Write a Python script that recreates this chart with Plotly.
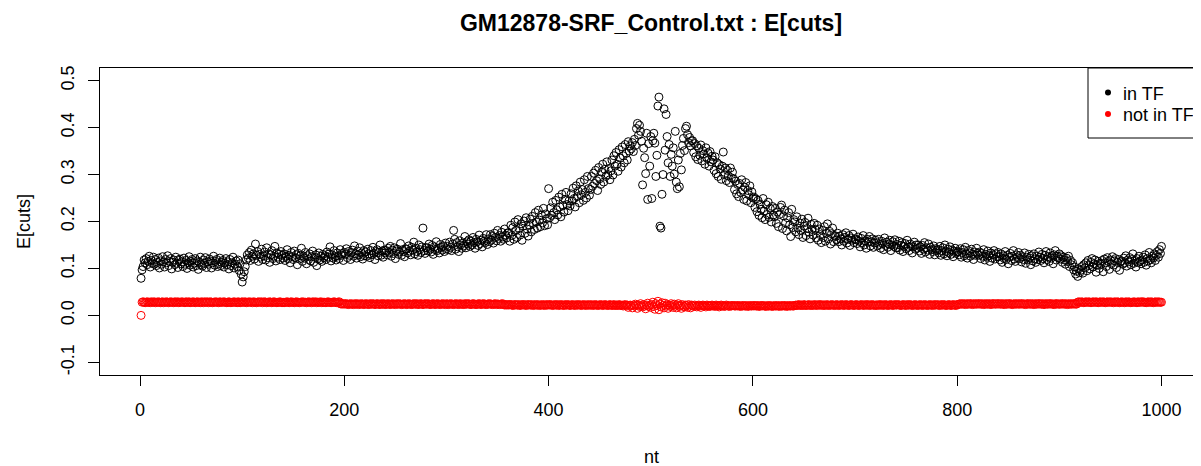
import plotly.graph_objects as go

title_text = "GM12878-SRF_Control.txt : E[cuts]"
x_label = "nt"
y_label = "E[cuts]"
series_names = ["in TF", "not in TF"]
series_colors = ["black", "red"]
x_ticks = [0, 200, 400, 600, 800, 1000]
x_tick_labels = ["0", "200", "400", "600", "800", "1000"]
y_ticks = [-0.1, 0.0, 0.1, 0.2, 0.3, 0.4, 0.5]
y_tick_labels = ["-0.1", "0.0", "0.1", "0.2", "0.3", "0.4", "0.5"]

# E[cuts] for positions inside the TF site (nt 1..1000)
in_tf = [
    .079, .097, .104, .118, .112, .121, .108, .115, .126, .103, .117, .111, .124, .109, .119, .106, .113, .122, .101, .116,
    .109, .125, .114, .103, .119, .112, .127, .106, .115, .121, .099, .113, .118, .108, .124, .111, .102, .117, .120, .110,
    .114, .104, .122, .109, .117, .100, .112, .125, .107, .115, .119, .103, .111, .121, .106, .116, .098, .113, .124, .108,
    .105, .118, .111, .123, .102, .114, .109, .120, .116, .101, .112, .126, .107, .115, .119, .104, .110, .122, .106, .113,
    .117, .103, .111, .121, .108, .114, .099, .119, .106, .112, .124, .101, .109, .116, .104, .118, .096, .110, .088, .071,
    .082, .093, .104, .118, .129, .122, .134, .117, .139, .126, .131, .120, .152, .128, .136, .115, .130, .124, .141, .119,
    .127, .135, .118, .144, .123, .131, .113, .129, .138, .121, .126, .147, .116, .133, .124, .130, .119, .136, .128, .122,
    .131, .117, .126, .140, .121, .128, .112, .134, .125, .119, .137, .123, .129, .108, .132, .120, .127, .143, .115, .126,
    .122, .134, .110, .127, .119, .131, .116, .125, .137, .113, .124, .129, .106, .121, .133, .118, .126, .115, .130, .123,
    .127, .119, .135, .124, .131, .146, .116, .129, .122, .138, .125, .118, .133, .127, .121, .140, .128, .132, .117, .134,
    .130, .142, .123, .136, .128, .119, .134, .139, .126, .148, .131, .122, .137, .129, .144, .125, .133, .120, .138, .127,
    .135, .126, .141, .131, .123, .138, .129, .145, .132, .119, .136, .140, .127, .134, .150, .128, .137, .124, .139, .133,
    .138, .129, .143, .134, .147, .126, .139, .132, .144, .121, .137, .141, .130, .135, .153, .128, .140, .136, .125, .142,
    .141, .133, .148, .137, .129, .145, .139, .156, .131, .143, .136, .128, .150, .140, .134, .146, .186, .138, .132, .144,
    .144, .137, .152, .141, .135, .149, .130, .146, .140, .157, .138, .143, .133, .151, .145, .139, .148, .136, .154, .142,
    .147, .140, .156, .145, .138, .152, .181, .162, .141, .155, .146, .136, .159, .150, .143, .154, .148, .168, .144, .157,
    .152, .161, .147, .158, .150, .166, .155, .143, .162, .157, .149, .171, .153, .160, .146, .164, .158, .155, .172, .151,
    .163, .157, .172, .160, .168, .154, .175, .166, .159, .181, .164, .170, .158, .177, .167, .162, .184, .171, .165, .176,
    .176, .158, .192, .170, .187, .162, .199, .181, .166, .204, .185, .171, .195, .160, .190, .201, .175, .208, .184, .169,
    .192, .205, .178, .211, .196, .183, .219, .199, .186, .224, .203, .189, .214, .197, .228, .191, .216, .206, .193, .270,
    .208, .229, .213, .241, .219, .204, .245, .225, .214, .252, .231, .210, .258, .234, .220, .247, .262, .236, .223, .244,
    .233, .259, .244, .271, .249, .231, .276, .253, .265, .240, .284, .257, .268, .245, .289, .262, .250, .296, .270, .256,
    .268, .296, .275, .303, .281, .309, .287, .266, .315, .291, .279, .305, .322, .284, .311, .296, .327, .300, .313, .289,
    .308, .331, .299, .340, .318, .347, .322, .307, .353, .335, .316, .359, .340, .325, .364, .345, .331, .370, .350, .361,
    .355, .368, .349, .375, .362, .398, .409, .384, .405, .392, .371, .278, .356, .336, .302, .388, .247, .366, .318, .381,
    .249, .372, .388, .367, .296, .341, .446, .465, .190, .186, .258, .300, .440, .352, .428, .381, .325, .364, .296, .343,
    .318, .357, .301, .392, .284, .270, .331, .274, .345, .310, .362, .377, .351, .398, .403, .385, .368, .379, .361, .372,
    .372, .347, .366, .338, .361, .332, .356, .341, .363, .329, .351, .344, .322, .357, .335, .346, .318, .349, .327, .339,
    .331, .309, .338, .302, .325, .296, .321, .312, .290, .318, .348, .300, .314, .287, .309, .297, .283, .314, .293, .305,
    .291, .268, .286, .259, .279, .253, .281, .262, .289, .267, .247, .273, .283, .244, .266, .257, .276, .240, .263, .250,
    .252, .230, .248, .221, .245, .213, .237, .226, .208, .249, .222, .204, .236, .215, .241, .209, .228, .199, .232, .214,
    .210, .228, .196, .220, .189, .215, .230, .235, .185, .212, .224, .197, .180, .208, .219, .193, .168, .226, .187, .204,
    .199, .178, .210, .186, .172, .197, .181, .205, .166, .190, .198, .170, .185, .207, .177, .163, .194, .183, .171, .196,
    .183, .165, .192, .160, .184, .172, .155, .181, .166, .189, .158, .175, .195, .163, .179, .152, .174, .186, .157, .170,
    .168, .161, .175, .157, .169, .163, .150, .172, .158, .166, .176, .154, .162, .170, .149, .165, .160, .173, .155, .163,
    .161, .153, .167, .158, .146, .164, .155, .170, .150, .159, .143, .162, .156, .168, .148, .157, .163, .145, .154, .160,
    .155, .148, .162, .151, .143, .158, .153, .140, .165, .149, .156, .145, .152, .160, .138, .150, .157, .147, .161, .144,
    .151, .144, .158, .139, .149, .155, .136, .147, .153, .142, .160, .145, .138, .152, .148, .133, .146, .156, .141, .150,
    .143, .150, .137, .146, .132, .149, .141, .155, .135, .144, .139, .152, .130, .145, .140, .136, .148, .129, .142, .138,
    .140, .133, .147, .128, .138, .144, .131, .150, .136, .127, .141, .134, .146, .130, .139, .125, .137, .143, .132, .135,
    .136, .129, .142, .124, .134, .140, .127, .145, .131, .122, .138, .133, .126, .141, .130, .119, .135, .128, .143, .132,
    .128, .135, .121, .132, .126, .140, .118, .130, .124, .137, .127, .115, .133, .122, .129, .138, .120, .131, .125, .134,
    .125, .118, .131, .113, .127, .121, .136, .119, .128, .110, .124, .132, .117, .126, .138, .120, .115, .129, .123, .134,
    .121, .128, .114, .125, .119, .133, .111, .124, .118, .130, .122, .108, .127, .116, .131, .120, .113, .126, .119, .135,
    .124, .117, .130, .121, .112, .128, .136, .119, .125, .115, .133, .122, .127, .110, .129, .138, .118, .126, .123, .131,
    .120, .127, .113, .124, .118, .109, .122, .115, .126, .104, .117, .108, .112, .097, .103, .088, .094, .083, .099, .091,
    .096, .104, .090, .108, .101, .112, .095, .117, .106, .099, .113, .121, .103, .110, .118, .092, .107, .115, .100, .111,
    .109, .117, .093, .120, .112, .104, .123, .115, .098, .118, .110, .125, .107, .116, .121, .102, .113, .119, .096, .114,
    .116, .109, .122, .112, .127, .105, .118, .114, .123, .108, .119, .131, .111, .117, .103, .121, .113, .126, .115, .110,
    .118, .124, .113, .129, .107, .121, .116, .134, .119, .112, .126, .122, .131, .117, .128, .136, .124, .140, .132, .147,
]

# E[cuts] for positions not in the TF site (nt 1..1000)
not_in_tf = [
    .000, .028, .029, .028, .027, .028, .029, .028, .028, .027, .029, .028, .028, .029, .027, .028, .028, .029, .028, .027,
    .028, .029, .027, .028, .028, .029, .028, .027, .028, .029, .028, .028, .027, .029, .028, .028, .029, .027, .028, .028,
    .029, .028, .028, .027, .029, .028, .028, .029, .027, .028, .028, .029, .028, .027, .028, .029, .028, .028, .027, .029,
    .028, .027, .029, .028, .028, .029, .027, .028, .029, .028, .027, .028, .028, .029, .028, .028, .027, .029, .028, .028,
    .028, .029, .028, .028, .027, .028, .029, .028, .027, .028, .028, .029, .028, .028, .027, .029, .028, .027, .028, .029,
    .028, .028, .029, .027, .028, .028, .029, .028, .028, .027, .029, .028, .028, .027, .028, .029, .028, .028, .029, .027,
    .028, .029, .028, .027, .028, .028, .029, .028, .027, .028, .029, .028, .028, .027, .028, .028, .029, .028, .027, .028,
    .027, .028, .028, .029, .028, .027, .028, .029, .028, .028, .027, .028, .029, .028, .028, .027, .028, .028, .029, .028,
    .028, .028, .027, .028, .029, .028, .028, .027, .029, .028, .028, .029, .027, .028, .028, .028, .029, .027, .028, .028,
    .028, .027, .028, .029, .028, .028, .027, .028, .028, .029, .028, .027, .028, .028, .029, .025, .024, .025, .024, .025,
    .024, .025, .024, .023, .024, .025, .024, .024, .023, .025, .024, .024, .025, .023, .024, .024, .025, .024, .023, .024,
    .025, .024, .024, .023, .025, .024, .024, .025, .024, .023, .024, .025, .024, .024, .023, .025, .024, .024, .025, .023,
    .024, .024, .025, .024, .023, .024, .025, .024, .024, .023, .025, .024, .024, .025, .024, .023, .024, .024, .025, .024,
    .023, .024, .025, .024, .024, .023, .024, .025, .024, .024, .025, .023, .024, .024, .025, .024, .023, .024, .025, .024,
    .024, .025, .024, .023, .024, .024, .025, .024, .023, .024, .025, .024, .024, .023, .024, .025, .024, .024, .023, .025,
    .024, .023, .024, .025, .024, .024, .023, .024, .025, .024, .024, .023, .025, .024, .024, .024, .023, .025, .024, .024,
    .025, .024, .024, .023, .024, .025, .024, .024, .023, .024, .024, .025, .024, .023, .024, .025, .024, .024, .023, .024,
    .024, .025, .024, .024, .023, .024, .024, .025, .023, .024, .024, .023, .024, .024, .025, .023, .022, .023, .022, .023,
    .022, .023, .023, .022, .021, .023, .022, .023, .022, .022, .023, .021, .022, .023, .022, .023, .022, .021, .023, .022,
    .023, .022, .022, .023, .021, .022, .023, .022, .022, .023, .021, .022, .022, .023, .022, .021, .023, .022, .022, .023,
    .022, .023, .022, .021, .022, .023, .022, .022, .023, .021, .022, .023, .022, .022, .021, .023, .022, .022, .023, .022,
    .021, .022, .023, .022, .022, .021, .023, .022, .022, .023, .022, .021, .022, .023, .022, .022, .021, .023, .022, .022,
    .022, .023, .021, .022, .022, .023, .022, .021, .022, .022, .023, .022, .021, .022, .023, .022, .022, .021, .022, .023,
    .022, .021, .022, .023, .021, .022, .022, .021, .023, .022, .021, .022, .020, .022, .023, .021, .022, .017, .021, .022,
    .021, .016, .022, .020, .024, .021, .015, .022, .019, .025, .021, .018, .023, .020, .014, .022, .026, .019, .021, .017,
    .023, .028, .019, .013, .025, .021, .030, .012, .024, .018, .027, .021, .016, .026, .020, .023, .015, .022, .019, .025,
    .021, .017, .024, .020, .016, .022, .025, .019, .021, .015, .023, .020, .018, .022, .021, .017, .023, .020, .016, .022,
    .021, .019, .022, .020, .018, .021, .022, .020, .017, .021, .022, .020, .021, .018, .022, .021, .020, .019, .021, .022,
    .020, .021, .019, .022, .021, .020, .018, .021, .022, .020, .021, .019, .020, .022, .021, .020, .019, .021, .020, .021,
    .021, .020, .020, .021, .020, .021, .020, .019, .021, .020, .021, .020, .020, .021, .019, .020, .021, .020, .020, .021,
    .020, .021, .020, .020, .021, .019, .020, .021, .020, .021, .020, .020, .019, .021, .020, .020, .021, .020, .019, .020,
    .021, .020, .020, .021, .020, .019, .021, .020, .020, .021, .020, .021, .019, .020, .021, .020, .020, .021, .020, .020,
    .021, .022, .021, .022, .023, .021, .022, .022, .021, .023, .022, .021, .022, .022, .023, .021, .022, .022, .021, .023,
    .022, .022, .021, .023, .022, .022, .023, .021, .022, .022, .021, .023, .022, .022, .021, .022, .023, .022, .022, .021,
    .022, .023, .022, .021, .022, .022, .023, .022, .021, .022, .023, .022, .022, .021, .022, .023, .022, .022, .021, .022,
    .023, .022, .022, .021, .022, .023, .022, .022, .021, .023, .022, .022, .023, .021, .022, .022, .023, .022, .021, .022,
    .022, .021, .023, .022, .022, .023, .021, .022, .022, .023, .022, .021, .022, .022, .023, .022, .021, .022, .023, .022,
    .022, .023, .022, .022, .021, .022, .023, .022, .022, .021, .023, .022, .022, .023, .022, .021, .022, .022, .023, .022,
    .021, .022, .022, .023, .022, .021, .022, .023, .022, .022, .021, .022, .023, .022, .022, .021, .023, .022, .022, .023,
    .022, .022, .021, .023, .022, .022, .023, .022, .021, .022, .022, .023, .022, .021, .022, .023, .022, .022, .021, .023,
    .023, .024, .025, .024, .024, .025, .024, .023, .025, .024, .024, .025, .024, .025, .023, .024, .025, .024, .024, .025,
    .024, .025, .024, .024, .025, .023, .024, .025, .024, .024, .025, .024, .023, .025, .024, .025, .024, .024, .025, .024,
    .025, .024, .024, .025, .024, .023, .025, .024, .024, .025, .024, .025, .024, .023, .024, .025, .024, .024, .025, .024,
    .024, .025, .024, .025, .024, .024, .023, .025, .024, .025, .024, .024, .025, .024, .023, .025, .024, .024, .025, .024,
    .025, .024, .024, .025, .023, .024, .025, .024, .024, .025, .024, .025, .024, .024, .023, .025, .024, .025, .024, .024,
    .024, .025, .024, .025, .024, .024, .025, .023, .024, .025, .024, .024, .025, .024, .025, .024, .024, .028, .029, .028,
    .028, .029, .028, .027, .028, .029, .028, .028, .029, .028, .027, .028, .029, .028, .028, .029, .028, .027, .028, .029,
    .028, .028, .029, .028, .027, .028, .029, .028, .028, .029, .028, .028, .027, .029, .028, .028, .029, .028, .027, .028,
    .029, .028, .028, .027, .029, .028, .028, .029, .028, .027, .028, .028, .029, .028, .028, .027, .029, .028, .028, .029,
    .028, .029, .028, .028, .027, .028, .029, .028, .028, .029, .028, .027, .028, .029, .028, .028, .029, .028, .028, .028,
]

nt_in = list(range(1, len(in_tf) + 1))
nt_not = list(range(1, len(not_in_tf) + 1))

FONT = "Liberation Sans, Arial, sans-serif"

fig = go.Figure()
for xs, ys, name, col in [(nt_in, in_tf, series_names[0], series_colors[0]),
                          (nt_not, not_in_tf, series_names[1], series_colors[1])]:
    fig.add_trace(go.Scatter(
        x=xs, y=ys, mode="markers", name=name, showlegend=False,
        marker=dict(symbol="circle-open", size=8, color=col, line=dict(width=1, color=col)),
    ))

# The page body has an 8px margin, so the figure starts 8px right and 8px down
# in the browser window. Targets below are given in window pixels.
OFF = 8
WIN_W, WIN_H = 1201, 466
W, H = WIN_W - OFF, WIN_H - OFF
L, T, B = 100 - OFF, 68 - OFF, 375 - OFF
PW, PH = W - L, B - T


def px_x(px):
    return (px - OFF - L) / PW


def px_y(py):
    return (B - (py - OFF)) / PH


shapes = [
    dict(type="rect", xref="paper", yref="paper", x0=px_x(1088), x1=1.05, y0=px_y(138), y1=1.0,
         line=dict(color="black", width=1), fillcolor="white", layer="above"),
]
legend_rows_y = [92.5, 114]
for ry, col in zip(legend_rows_y, series_colors):
    shapes.append(dict(type="circle", xref="paper", yref="paper",
                       xsizemode="pixel", ysizemode="pixel",
                       xanchor=px_x(1108), yanchor=px_y(ry), x0=-3, x1=3, y0=-3, y1=3,
                       line=dict(color=col, width=0), fillcolor=col, layer="above"))

annotations = []
for ry, name in zip(legend_rows_y, series_names):
    annotations.append(dict(text=name, xref="paper", yref="paper", x=px_x(1121), y=px_y(ry + 1),
                            xanchor="left", yanchor="middle", showarrow=False,
                            font=dict(family=FONT, size=18, color="black")))
annotations.append(dict(text=x_label, xref="paper", yref="paper", x=px_x(651), y=px_y(457),
                        xanchor="center", yanchor="middle", showarrow=False,
                        font=dict(family=FONT, size=18, color="black")))
annotations.append(dict(text=y_label, xref="paper", yref="paper", x=px_x(23.5), y=0.5,
                        xanchor="center", yanchor="middle", showarrow=False, textangle=-90,
                        font=dict(family=FONT, size=18, color="black")))

fig.update_layout(
    width=W, height=H,
    margin=dict(l=L, r=0, t=T, b=H - B, pad=0),
    paper_bgcolor="white", plot_bgcolor="white",
    title=dict(text=title_text, xref="paper", x=px_x(651), xanchor="center",
               yref="container", y=1 - (23 - OFF) / H, yanchor="middle",
               font=dict(family=FONT, size=23, color="black", weight="bold")),
    xaxis=dict(range=[-39.2, 1038.7], tickvals=x_ticks, ticktext=x_tick_labels,
               ticks="outside", ticklen=10, tickwidth=1, tickcolor="black",
               showline=True, linecolor="black", linewidth=1, mirror=True,
               showgrid=False, zeroline=False, ticklabelstandoff=8,
               tickfont=dict(family=FONT, size=18, color="black")),
    yaxis=dict(range=[-0.127, 0.527], tickvals=y_ticks, ticktext=y_tick_labels, tickangle=-90,
               ticks="outside", ticklen=11, tickwidth=1, tickcolor="black",
               showline=True, linecolor="black", linewidth=1, mirror=False,
               showgrid=False, zeroline=False, ticklabelstandoff=7,
               tickfont=dict(family=FONT, size=18, color="black")),
    shapes=shapes,
    annotations=annotations,
    showlegend=False,
)

fig.write_html("out.html")
